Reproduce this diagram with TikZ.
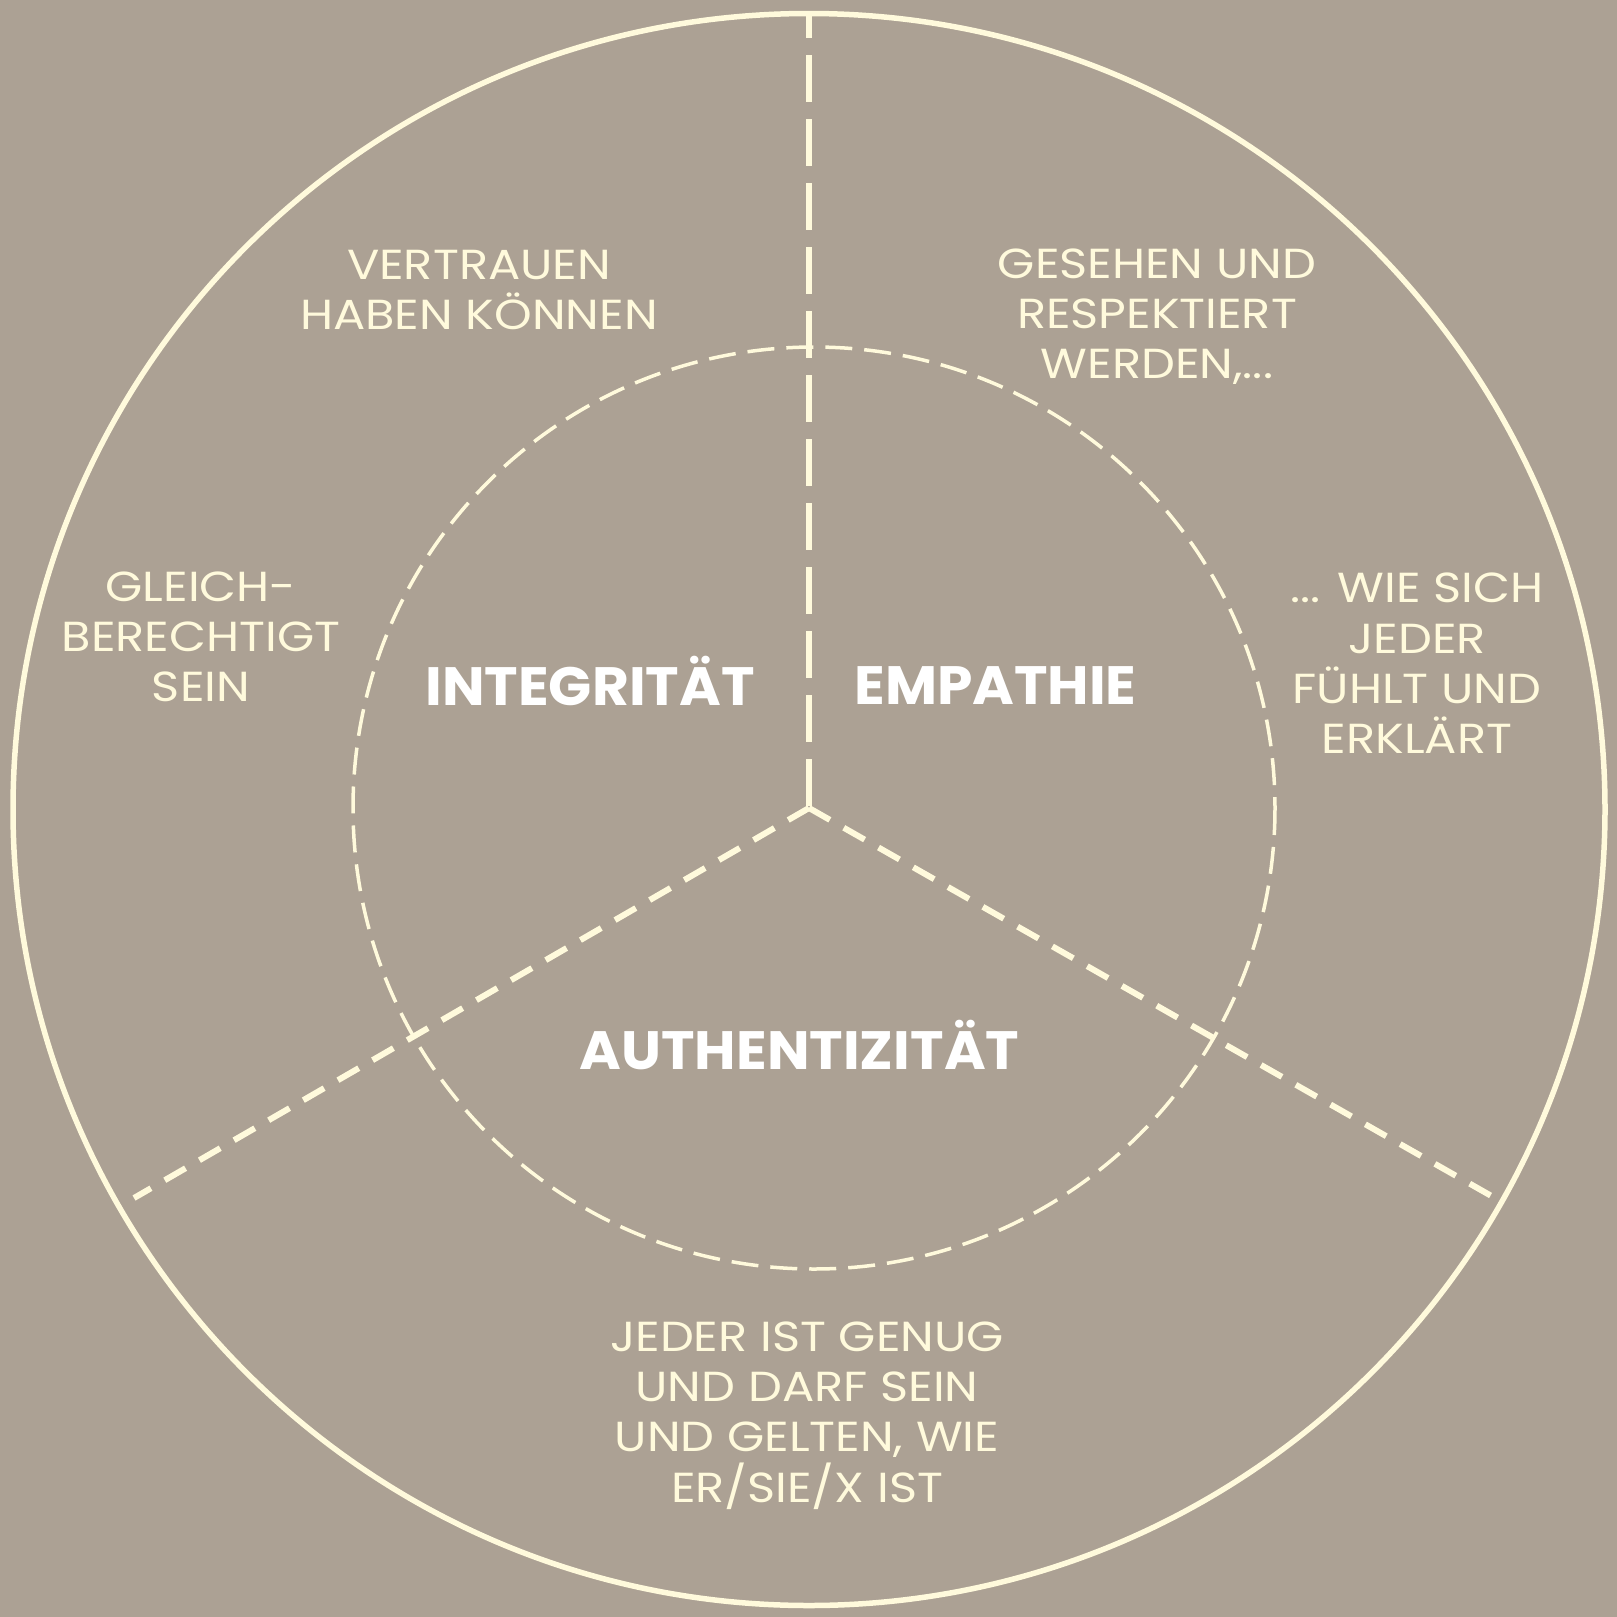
\documentclass[tikz,border=0pt]{standalone}
\usepackage{fontspec}
\setmainfont{Poppins}
\newfontfamily\lightfont[FakeStretch=1.14]{Poppins}
\newfontfamily\heavyfont[FakeStretch=1.05]{Poppins}
\definecolor{bgc}{HTML}{ACA194}
\definecolor{cream}{HTML}{FFFADC}
\tikzset{
  lighttxt/.style={text=cream, align=center, font=\lightfont\fontsize{42}{50.2}\selectfont, inner sep=0pt},
  boldtxt/.style={text=white, font=\heavyfont\fontsize{54}{60}\selectfont\bfseries, inner sep=0pt},
  outerring/.style={draw=cream, line width=5.5pt},
  innerring/.style={draw=cream, line width=3.5pt, dash pattern=on 27pt off 12pt},
  vline/.style={draw=cream, line width=6pt, dash pattern=on 47pt off 17pt, dash phase=24pt},
  dline/.style={draw=cream, line width=6pt, dash pattern=on 24pt off 16pt},
}
\begin{document}
\begin{tikzpicture}[x=1pt,y=-1pt]
\fill[bgc] (0,0) rectangle (1617,1617);
\useasboundingbox (0,0) rectangle (1617,1617);
\coordinate (c) at (809,808);
\coordinate (top) at (809,15);
\coordinate (bl) at (134,1198);
\coordinate (br) at (1495,1198);
\coordinate (ic) at (814,808);
\coordinate (oc) at (809,809.5);
\draw[outerring] (oc) circle[radius=796];
\draw[innerring] (ic) circle[radius=461];
\draw[vline] (top) -- (c);
\draw[dline] (c) -- (bl);
\draw[dline] (c) -- (br);
\node[lighttxt] (t1) at (479,290) {VERTRAUEN\\HABEN KÖNNEN};
\node[lighttxt] (t2) at (1157,316.6) {GESEHEN UND\\RESPEKTIERT\\WERDEN,...};
\node[lighttxt] (t3) at (201,637) {GLEICH-\\BERECHTIGT\\SEIN};
\node[lighttxt] (t4) at (1417,663.3) {... WIE SICH\\JEDER\\FÜHLT UND\\ERKLÄRT};
\node[lighttxt] (t5) at (807,1415.5) {JEDER IST GENUG\\UND DARF SEIN\\UND GELTEN, WIE\\ER/SIE/X IST};
\node[boldtxt] (b1) at (590,681) {INTEGRITÄT};
\node[boldtxt] (b2) at (995.5,686) {EMPATHIE};
\node[boldtxt] (b3) at (799.5,1045) {AUTHENTIZITÄT};
\end{tikzpicture}
\end{document}
